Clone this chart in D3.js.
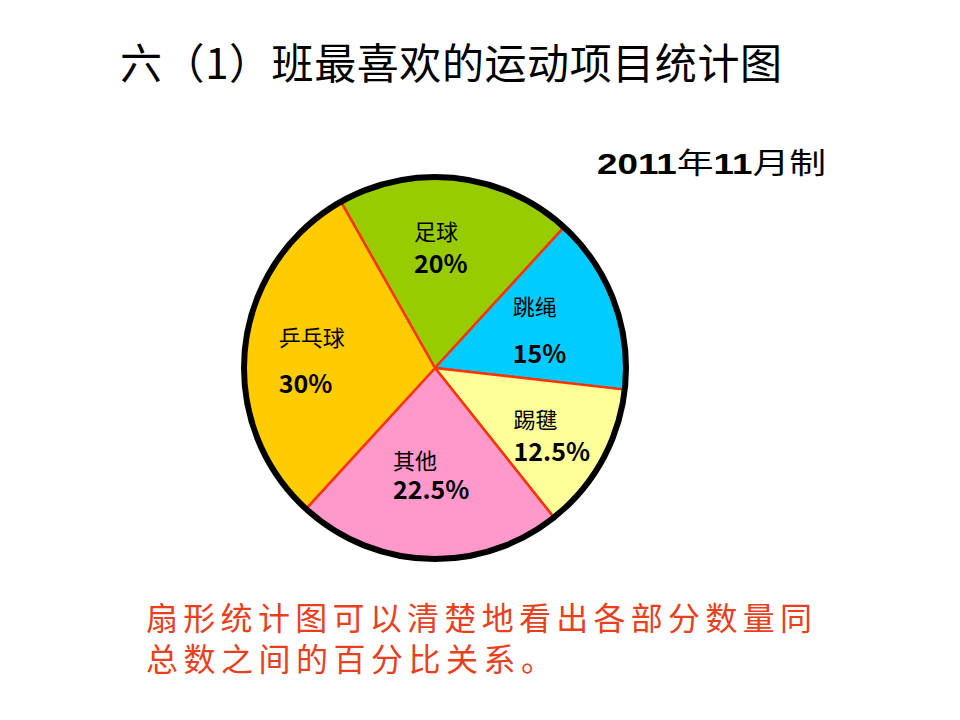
<!DOCTYPE html>
<html>
<head>
<meta charset="utf-8">
<script src="https://cdn.jsdelivr.net/npm/d3@7"></script>
<style>
  body { margin: 0; background: #fff; }
  text { font-family: "Noto Sans CJK SC", sans-serif; }
</style>
</head>
<body>
<div id="chart"></div>
<script>
// Data
const categories = ["足球", "跳绳", "踢毽", "其他", "乒乓球"];
const percents = [20, 15, 12.5, 22.5, 30];
const colors = ["#99CC00", "#00CCFF", "#FFFF99", "#FF99CC", "#FFCC00"];
const title = "六（1）班最喜欢的运动项目统计图";
const dateNote = ["2011", "年", "11", "月制"];
const noteLines = ["扇形统计图可以清楚地看出各部分数量同", "总数之间的百分比关系。"];

// Dimensions
const width = 960;
const height = 720;
const cx = 435, cy = 368;
const radius = 191;

const svg = d3.select("#chart")
  .append("svg")
  .attr("width", width)
  .attr("height", height);

// Title
svg.append("text")
  .attr("x", 120)
  .attr("y", 79)
  .attr("font-size", 42)
  .attr("fill", "#000")
  .attr("textLength", 662)
  .attr("lengthAdjust", "spacing")
  .text(title);

// Date line (numbers bold)
const dt = svg.append("text")
  .attr("x", 597)
  .attr("y", 174)
  .attr("font-size", 29)
  .attr("fill", "#000")
  .attr("textLength", 229)
  .attr("lengthAdjust", "spacingAndGlyphs");
dateNote.forEach(s => {
  const num = /\d/.test(s);
  dt.append("tspan")
    .attr("font-family", num ? "'Liberation Sans', Arial, sans-serif" : "'Noto Sans CJK SC', sans-serif")
    .attr("font-weight", num ? "bold" : "normal")
    .text(s);
});

// Pie
const start = -29.5 * Math.PI / 180;
const pie = d3.pie()
  .sort(null)
  .value(d => d)
  .startAngle(start)
  .endAngle(start + 2 * Math.PI);

const arc = d3.arc().innerRadius(0).outerRadius(radius);
const labelArc = d3.arc().innerRadius(0).outerRadius(230);

const g = svg.append("g")
  .attr("transform", `translate(${cx}, ${cy})`);

const arcs = pie(percents);

g.selectAll(".slice")
  .data(arcs)
  .enter()
  .append("path")
  .attr("class", "slice")
  .attr("d", arc)
  .attr("fill", (_, i) => colors[i])
  .attr("stroke", "#FF3300")
  .attr("stroke-width", 2.5)
  .attr("stroke-linejoin", "round");

// Outer ring
g.append("circle")
  .attr("r", radius)
  .attr("fill", "none")
  .attr("stroke", "#000")
  .attr("stroke-width", 6);

// Label layout tweaks from centroid: [dx, name dy, percent dy]
const labelTweak = [
  [-34, -24, 10],
  [-30, -23, 26],
  [-22, -6, 28],
  [-38, -24, 7],
  [-42, -19, 29]
];

const labels = g.selectAll(".label")
  .data(arcs)
  .enter()
  .append("g")
  .attr("class", "label")
  .attr("transform", (d, i) => {
    const [x, y] = labelArc.centroid(d);
    return `translate(${x + labelTweak[i][0]}, ${y})`;
  });

labels.append("text")
  .attr("y", (_, i) => labelTweak[i][1])
  .attr("dominant-baseline", "central")
  .attr("font-size", 22)
  .attr("fill", "#000")
  .text((_, i) => categories[i]);

labels.append("text")
  .attr("y", (_, i) => labelTweak[i][2] + 9)
  .attr("font-size", 25)
  .attr("font-weight", "bold")
  .attr("font-family", "'Liberation Sans', Arial, sans-serif")
  .attr("fill", "#000")
  .text(d => d.value + "%");

// Bottom note: same character pitch on both lines
const pitch = 666 / noteLines[0].length;
svg.selectAll(".note")
  .data(noteLines)
  .enter()
  .append("text")
  .attr("class", "note")
  .attr("x", 146)
  .attr("y", (_, i) => 630 + i * 41)
  .attr("font-size", 32)
  .attr("fill", "#E8401C")
  .attr("textLength", d => d.length * pitch)
  .attr("lengthAdjust", "spacing")
  .text(d => d);
</script>
</body>
</html>
